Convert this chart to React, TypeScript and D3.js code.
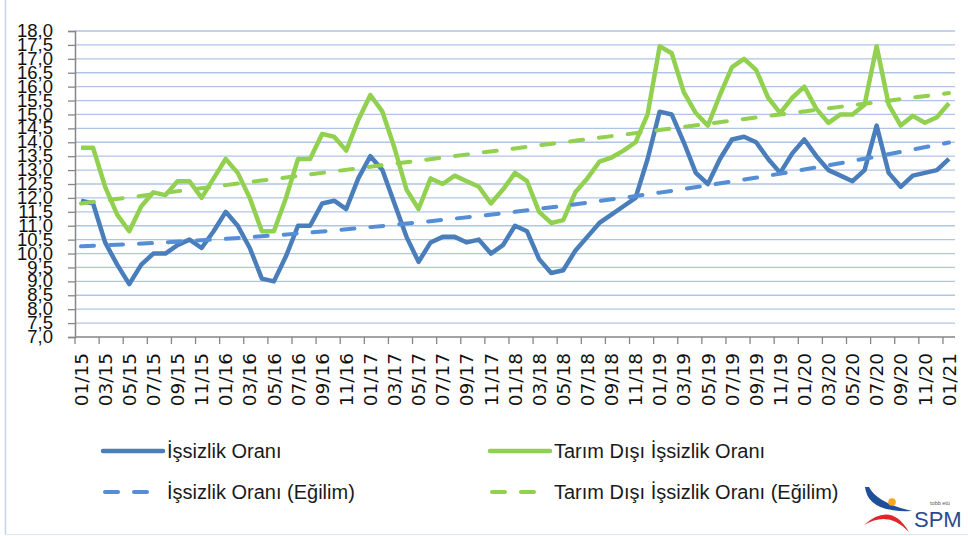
import React, { useRef, useEffect } from "react";
import * as d3 from "d3";

// tick labels, every second month
const tickLabels = [
  "01/15", "03/15", "05/15", "07/15", "09/15", "11/15",
  "01/16", "03/16", "05/16", "07/16", "09/16", "11/16",
  "01/17", "03/17", "05/17", "07/17", "09/17", "11/17",
  "01/18", "03/18", "05/18", "07/18", "09/18", "11/18",
  "01/19", "03/19", "05/19", "07/19", "09/19", "11/19",
  "01/20", "03/20", "05/20", "07/20", "09/20", "11/20",
  "01/21",
];

// monthly values 01/15 .. 01/21
const issizlik = [
  11.9, 11.8, 10.4, 9.6, 8.9, 9.6, 10.0, 10.0, 10.3, 10.5,
  10.2, 10.8, 11.5, 11.0, 10.2, 9.1, 9.0, 9.9, 11.0, 11.0,
  11.8, 11.9, 11.6, 12.7, 13.5, 13.0, 11.8, 10.6, 9.7, 10.4,
  10.6, 10.6, 10.4, 10.5, 10.0, 10.3, 11.0, 10.8, 9.8, 9.3,
  9.4, 10.1, 10.6, 11.1, 11.4, 11.7, 12.0, 13.4, 15.1, 15.0,
  14.0, 12.9, 12.5, 13.4, 14.1, 14.2, 14.0, 13.4, 12.9, 13.6,
  14.1, 13.5, 13.0, 12.8, 12.6, 13.0, 14.6, 12.9, 12.4, 12.8,
  12.9, 13.0, 13.4,
];

const tarimDisi = [
  13.8, 13.8, 12.4, 11.4, 10.8, 11.7, 12.2, 12.1, 12.6, 12.6,
  12.0, 12.7, 13.4, 12.9, 12.0, 10.8, 10.8, 12.0, 13.4, 13.4,
  14.3, 14.2, 13.7, 14.8, 15.7, 15.1, 13.8, 12.3, 11.6, 12.7,
  12.5, 12.8, 12.6, 12.4, 11.8, 12.3, 12.9, 12.6, 11.5, 11.1,
  11.2, 12.2, 12.7, 13.3, 13.45, 13.7, 14.0, 15.0, 17.45, 17.2,
  15.8, 15.05, 14.6, 15.7, 16.7, 17.0, 16.6, 15.6, 15.05, 15.6,
  16.0, 15.2, 14.7, 15.0, 15.0, 15.35, 17.45, 15.35, 14.6, 14.95,
  14.7, 14.9, 15.4,
];

// trend (Eğilim) read every 6 months
const trendIdx = [0, 6, 12, 18, 24, 30, 36, 42, 48, 54, 60, 66, 72];
const issizlikTrend = [10.26, 10.38, 10.53, 10.72, 10.95, 11.21, 11.5, 11.83, 12.19, 12.59, 13.02, 13.49, 13.99];
const tarimDisiTrend = [11.8, 12.13, 12.46, 12.79, 13.12, 13.45, 13.78, 14.11, 14.44, 14.78, 15.11, 15.44, 15.77];

const BLUE = "#4A7EBB";
const GREEN = "#92D050";
const BLUE_DASH = "#558ED5";
const AXIS = "#868686";
const GRID = "#AFC5E6";

const SpmChart: React.FC = () => {
  const d3Container = useRef<SVGSVGElement>(null);

  useEffect(() => {
    if (!d3Container.current) return;
    drawChart();
  }, []);

  const drawChart = () => {
    const width = 968;
    const height = 536;
    const plot = { left: 75, right: 955, top: 31, bottom: 337 };

    const svg = d3.select(d3Container.current);
    svg.selectAll("*").remove();
    svg.attr("width", width).attr("height", height);

    svg.append("rect").attr("width", width).attr("height", height).attr("fill", "#fff");

    // frame
    svg.append("line").attr("x1", 5.5).attr("x2", 5.5).attr("y1", 0).attr("y2", 535)
      .attr("stroke", "#c6d4e8").attr("stroke-width", 1.5);
    svg.append("line").attr("x1", 5).attr("x2", width).attr("y1", 534.5).attr("y2", 534.5)
      .attr("stroke", "#e2e7ee").attr("stroke-width", 1);

    const x = d3
      .scaleBand<number>()
      .domain(d3.range(issizlik.length))
      .range([plot.left, plot.right])
      .paddingInner(0)
      .paddingOuter(0);
    const bw = x.bandwidth();
    const cx = (i: number) => (x(i) as number) + bw / 2;

    const y = d3.scaleLinear().domain([7, 18]).range([plot.bottom, plot.top]);
    const yTicks = y.ticks(22);

    // gridlines
    svg
      .append("g")
      .selectAll("line")
      .data(yTicks.filter((d) => d > 7))
      .join("line")
      .attr("x1", plot.left)
      .attr("x2", plot.right)
      .attr("y1", (d) => y(d))
      .attr("y2", (d) => y(d))
      .attr("stroke", GRID)
      .attr("stroke-width", 1.3);

    // y axis
    const yAxis = svg
      .append("g")
      .attr("transform", `translate(${plot.left},0)`)
      .call(
        d3
          .axisLeft(y)
          .tickValues(yTicks)
          .tickSize(7)
          .tickPadding(15)
          .tickFormat((d) => d3.format(".1f")(d as number).replace(".", ","))
      );
    yAxis.select(".domain").attr("stroke", AXIS).attr("stroke-width", 1.5);
    yAxis.selectAll(".tick line").attr("stroke", AXIS).attr("stroke-width", 1.3);
    yAxis
      .selectAll(".tick text")
      .attr("fill", "#111")
      .attr("font-family", "'Liberation Sans', Arial, sans-serif")
      .attr("font-size", 18.5)
      .attr("dy", "0.3em");

    // x axis
    const xAxis = svg.append("g");
    xAxis
      .append("line")
      .attr("x1", plot.left)
      .attr("x2", plot.right)
      .attr("y1", plot.bottom)
      .attr("y2", plot.bottom)
      .attr("stroke", AXIS)
      .attr("stroke-width", 1.5);
    xAxis
      .selectAll("line.tick")
      .data(tickLabels)
      .join("line")
      .attr("class", "tick")
      .attr("x1", (_, k) => x(k * 2) as number)
      .attr("x2", (_, k) => x(k * 2) as number)
      .attr("y1", plot.bottom)
      .attr("y2", plot.bottom + 7)
      .attr("stroke", AXIS)
      .attr("stroke-width", 1.3);
    xAxis
      .selectAll("text")
      .data(tickLabels)
      .join("text")
      .attr("transform", (_, k) => `translate(${cx(k * 2)},353) rotate(-90)`)
      .attr("text-anchor", "end")
      .attr("dy", "0.36em")
      .attr("font-family", "'DejaVu Sans', Verdana, sans-serif")
      .attr("font-size", 18.5)
      .attr("fill", "#111")
      .text((d) => d);

    // series
    const line = d3
      .line<number>()
      .x((_, i) => cx(i))
      .y((d) => y(d));

    svg.append("path").datum(issizlik).attr("d", line)
      .attr("fill", "none").attr("stroke", BLUE).attr("stroke-width", 4.5)
      .attr("stroke-linejoin", "round");
    svg.append("path").datum(tarimDisi).attr("d", line)
      .attr("fill", "none").attr("stroke", GREEN).attr("stroke-width", 4.5)
      .attr("stroke-linejoin", "round");

    const trendLine = d3
      .line<number>()
      .x((_, i) => cx(trendIdx[i]))
      .y((d) => y(d))
      .curve(d3.curveMonotoneX);

    svg.append("path").datum(issizlikTrend).attr("d", trendLine)
      .attr("fill", "none").attr("stroke", BLUE_DASH).attr("stroke-width", 4)
      .attr("stroke-dasharray", "13,16").attr("stroke-linecap", "round");
    svg.append("path").datum(tarimDisiTrend).attr("d", trendLine)
      .attr("fill", "none").attr("stroke", GREEN).attr("stroke-width", 4)
      .attr("stroke-dasharray", "13,16").attr("stroke-linecap", "round");

    // legend
    const legendItems = [
      { label: "İşsizlik Oranı", color: BLUE, dashed: false, x: 103, y: 451 },
      { label: "Tarım Dışı İşsizlik Oranı", color: GREEN, dashed: false, x: 490, y: 451 },
      { label: "İşsizlik Oranı (Eğilim)", color: BLUE_DASH, dashed: true, x: 103, y: 492 },
      { label: "Tarım Dışı İşsizlik Oranı (Eğilim)", color: GREEN, dashed: true, x: 490, y: 492 },
    ];
    const legend = svg.append("g");
    legendItems.forEach((it) => {
      legend
        .append("line")
        .attr("x1", it.dashed ? it.x + 2 : it.x)
        .attr("x2", it.dashed ? it.x + 57 : it.x + 60)
        .attr("y1", it.y)
        .attr("y2", it.y)
        .attr("stroke", it.color)
        .attr("stroke-width", it.dashed ? 4 : 4.5)
        .attr("stroke-dasharray", it.dashed ? "13,16" : null)
        .attr("stroke-linecap", "round");
      legend
        .append("text")
        .attr("x", it.x + 64)
        .attr("y", it.y + 7)
        .attr("font-family", "'Liberation Sans', Arial, sans-serif")
        .attr("font-size", 20)
        .attr("fill", "#1a1a1a")
        .text(it.label);
    });

    // SPM logo
    const logo = svg.append("g");
    logo.append("path")
      .attr("d", "M865,487 Q868,513 912,511 Q877,503 869,487 Z")
      .attr("fill", "#1F4E9A");
    logo.append("circle").attr("cx", 892).attr("cy", 502).attr("r", 3.8).attr("fill", "#F5A81C");
    logo.append("path")
      .attr("d", "M864,525 Q891,501 909,532 Q889,510 864,525 Z")
      .attr("fill", "#E3262A");
    logo.append("text")
      .attr("x", 914).attr("y", 527)
      .attr("font-family", "'Liberation Sans Narrow', 'Liberation Sans', Arial, sans-serif")
      .attr("font-size", 22)
      .attr("fill", "#2A4B8D")
      .text("SPM");
    logo.append("text")
      .attr("x", 940).attr("y", 505)
      .attr("text-anchor", "middle")
      .attr("font-family", "'Liberation Sans', Arial, sans-serif")
      .attr("font-size", 5.5)
      .attr("fill", "#555")
      .text("tobb etü");
  };

  return (
    <div style={{ position: "absolute", left: 0, top: 0 }}>
      <svg ref={d3Container} />
    </div>
  );
};

export default function App() {
  return <SpmChart />;
}
